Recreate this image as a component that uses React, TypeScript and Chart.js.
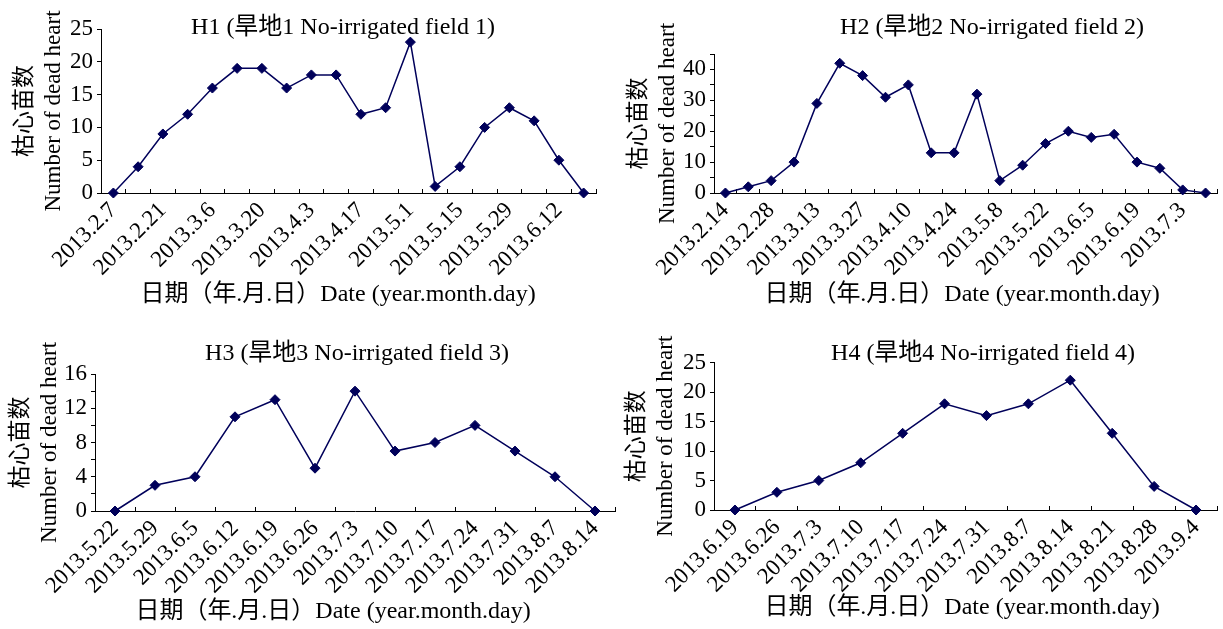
import React, { useEffect, useRef } from 'react';
import { Chart, registerables } from 'chart.js';

Chart.register(...registerables);

// ---------- data ----------
const H1_DATES = ['2013.2.7', '2013.2.14', '2013.2.21', '2013.2.28', '2013.3.6', '2013.3.13', '2013.3.20', '2013.3.27', '2013.4.3', '2013.4.10', '2013.4.17', '2013.4.24', '2013.5.1', '2013.5.8', '2013.5.15', '2013.5.22', '2013.5.29', '2013.6.5', '2013.6.12', '2013.6.19'];
const H1_VALUES = [0, 4, 9, 12, 16, 19, 19, 16, 18, 18, 12, 13, 23, 1, 4, 10, 13, 11, 5, 0];

const H2_DATES = ['2013.2.14', '2013.2.21', '2013.2.28', '2013.3.6', '2013.3.13', '2013.3.20', '2013.3.27', '2013.4.3', '2013.4.10', '2013.4.17', '2013.4.24', '2013.5.1', '2013.5.8', '2013.5.15', '2013.5.22', '2013.5.29', '2013.6.5', '2013.6.12', '2013.6.19', '2013.6.26', '2013.7.3', '2013.7.10'];
const H2_VALUES = [0, 2, 4, 10, 29, 42, 38, 31, 35, 13, 13, 32, 4, 9, 16, 20, 18, 19, 10, 8, 1, 0];

const H3_DATES = ['2013.5.22', '2013.5.29', '2013.6.5', '2013.6.12', '2013.6.19', '2013.6.26', '2013.7.3', '2013.7.10', '2013.7.17', '2013.7.24', '2013.7.31', '2013.8.7', '2013.8.14'];
const H3_VALUES = [0, 3, 4, 11, 13, 5, 14, 7, 8, 10, 7, 4, 0];

const H4_DATES = ['2013.6.19', '2013.6.26', '2013.7.3', '2013.7.10', '2013.7.17', '2013.7.24', '2013.7.31', '2013.8.7', '2013.8.14', '2013.8.21', '2013.8.28', '2013.9.4'];
const H4_VALUES = [0, 3, 5, 8, 13, 18, 16, 18, 22, 13, 4, 0];

const TITLES = ['H1 (旱地1 No-irrigated field 1)', 'H2 (旱地2 No-irrigated field 2)', 'H3 (旱地3 No-irrigated field 3)', 'H4 (旱地4 No-irrigated field 4)'];
const Y_TITLE = ['枯心苗数', 'Number of dead heart'];
const X_TITLE = '日期（年.月.日）Date (year.month.day)';

// y axis: max, tick step, label step
const Y_MAX = [25, 45, 16, 25];
const Y_STEP = [5, 5, 2, 5];
const Y_LABEL_STEP = [5, 10, 4, 5];
const X_LABEL_EVERY = [2, 2, 1, 1];

// ---------- layout ----------
const W = 1223;
const H = 629;
const FONT = "'Liberation Serif', 'Noto Sans CJK SC', serif";
const FS = 23;
const TFS = 24;
const LH = 1.2;
const HALF = (TFS * LH) / 2;
const LINE_COLOR = '#00005a';

const GEOM = [
  { l: 101, r: 596, t: 29, b: 193, yTitleX: 25, xTitleX: 338, xTitleY: 295, tx: 343, ty: 28 },
  { l: 714, r: 1221, t: 54, b: 193, yTitleX: 639, xTitleX: 962, xTitleY: 295, tx: 992, ty: 28 },
  { l: 95, r: 615, t: 374, b: 511, yTitleX: 21, xTitleX: 333, xTitleY: 612, tx: 357, ty: 354 },
  { l: 714, r: 1218, t: 362.5, b: 510, yTitleX: 637, xTitleX: 962, xTitleY: 608, tx: 983, ty: 354 },
];

const PANELS = [
  { labels: H1_DATES, values: H1_VALUES },
  { labels: H2_DATES, values: H2_VALUES },
  { labels: H3_DATES, values: H3_VALUES },
  { labels: H4_DATES, values: H4_VALUES },
];

const titlePlugin = {
  id: 'panelTitle',
  afterDraw(chart: any, _args: any, opts: any) {
    const { ctx } = chart;
    ctx.save();
    ctx.font = `${TFS}px ${FONT}`;
    ctx.fillStyle = '#000';
    ctx.textAlign = 'center';
    ctx.textBaseline = 'middle';
    ctx.fillText(opts.text, opts.x, opts.y);
    ctx.fillText(opts.xText, opts.xx, opts.xy);
    ctx.restore();
  },
};

function Panel({ idx }: { idx: number }) {
  const ref = useRef<HTMLCanvasElement | null>(null);
  useEffect(() => {
    const g = GEOM[idx];
    const p = PANELS[idx];
    const padLeft = g.yTitleX - HALF;
    const xBottom = g.xTitleY + HALF;
    const yW = g.l - padLeft;
    const xH = xBottom - g.b;
    const every = X_LABEL_EVERY[idx];
    const lstep = Y_LABEL_STEP[idx];
    const chart = new Chart(ref.current as HTMLCanvasElement, {
      type: 'line',
      data: {
        labels: p.labels,
        datasets: [
          {
            data: p.values,
            borderColor: LINE_COLOR,
            backgroundColor: LINE_COLOR,
            pointBackgroundColor: LINE_COLOR,
            pointBorderColor: LINE_COLOR,
            pointStyle: 'rectRot',
            pointRadius: 5,
            pointBorderWidth: 1,
            borderWidth: 1.5,
            tension: 0,
            clip: false as any,
          },
        ],
      },
      plugins: [titlePlugin as any],
      options: {
        responsive: false,
        animation: false,
        events: [],
        layout: {
          padding: { left: padLeft, right: W - g.r, top: g.t, bottom: H - xBottom },
        },
        plugins: {
          legend: { display: false },
          tooltip: { enabled: false },
          title: { display: false },
          panelTitle: { text: TITLES[idx], x: g.tx, y: g.ty, xText: X_TITLE, xx: g.xTitleX, xy: g.xTitleY },
        } as any,
        scales: {
          x: {
            type: 'category',
            offset: true,
            grid: { offset: true, drawOnChartArea: false, drawTicks: true, tickLength: -4, color: '#000', lineWidth: 1 },
            border: { display: true, color: '#000', width: 1 },
            ticks: {
              autoSkip: false,
              maxRotation: 45,
              minRotation: 45,
              padding: 8,
              color: '#000',
              font: { family: FONT, size: FS },
              callback: function (this: any, v: any, i: number) {
                return i % every === 0 ? this.getLabelForValue(v) : '';
              },
            },
            title: { display: false },
            afterFit: (s: any) => {
              s.height = xH;
              s.paddingLeft = 0;
              s.paddingRight = 0;
            },
          },
          y: {
            type: 'linear',
            min: 0,
            max: Y_MAX[idx],
            grid: { drawOnChartArea: false, drawTicks: true, tickLength: 4, color: '#000', lineWidth: 1 },
            border: { display: true, color: '#000', width: 1 },
            ticks: {
              stepSize: Y_STEP[idx],
              autoSkip: false,
              padding: 4,
              color: '#000',
              font: { family: FONT, size: FS },
              callback: (v: any) => (Number(v) % lstep === 0 ? String(v) : ''),
            },
            title: {
              display: true,
              text: Y_TITLE,
              color: '#000',
              font: { family: FONT, size: TFS - 1, lineHeight: (TFS * LH) / (TFS - 1) },
              padding: 0,
            },
            afterFit: (s: any) => {
              s.width = yW;
              s.paddingTop = 0;
              s.paddingBottom = 0;
            },
          },
        },
      },
    });
    return () => chart.destroy();
  }, [idx]);
  return (
    <canvas
      ref={ref}
      width={W}
      height={H}
      style={{ position: 'absolute', left: 0, top: 0, width: W, height: H }}
    />
  );
}

export default function App() {
  return (
    <div style={{ position: 'absolute', left: 0, top: 0, width: W, height: H, background: '#fff' }}>
      {[0, 1, 2, 3].map((i) => (
        <Panel key={i} idx={i} />
      ))}
    </div>
  );
}
